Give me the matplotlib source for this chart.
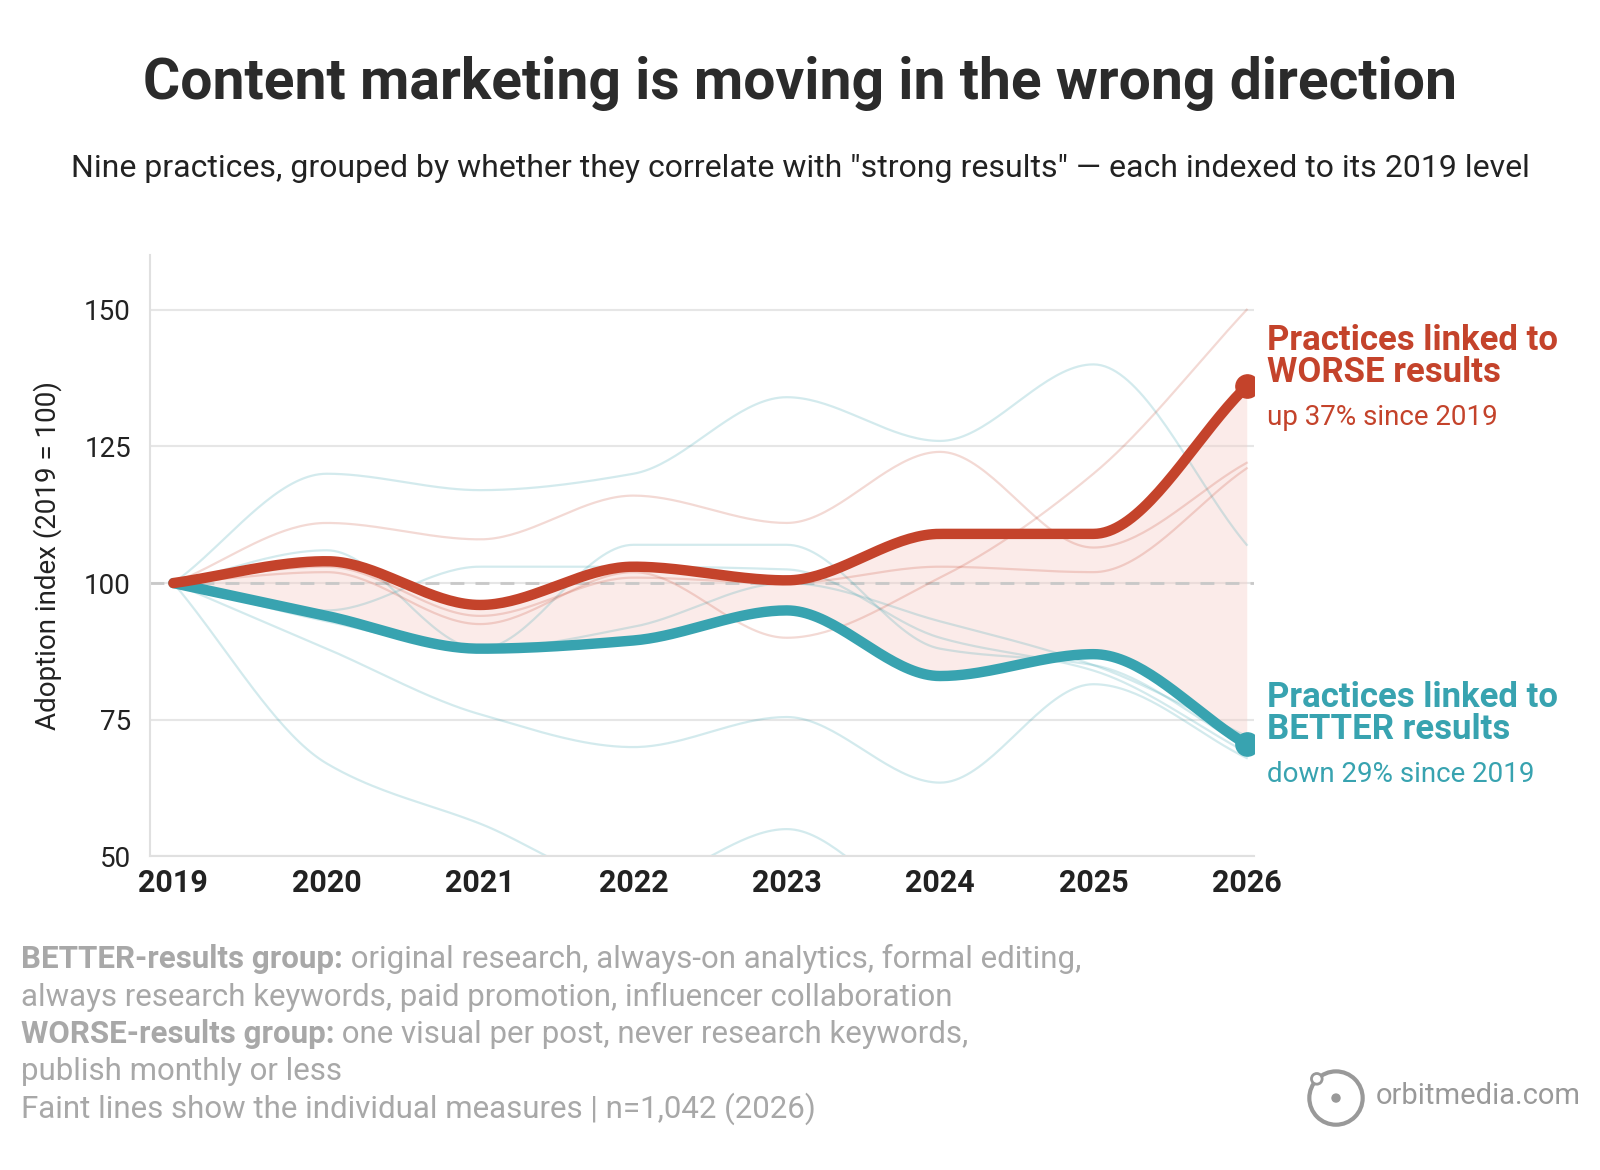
import numpy as np
import matplotlib
matplotlib.use("Agg")
import matplotlib.pyplot as plt
from matplotlib.patches import Circle

years = [2019, 2020, 2021, 2022, 2023, 2024, 2025, 2026]
worse_avg = [100, 104, 96, 103, 100.5, 109, 109, 136]
better_avg = [100, 94, 88, 89.5, 95, 83, 87, 70.5]
better_lines = [
    [100, 120, 117, 120, 134, 126, 140, 107],
    [100, 106, 88, 107, 107, 88, 85, 70],
    [100, 95, 103, 103, 102.5, 90, 84, 69],
    [100, 88, 76, 70, 75.5, 63.5, 81.5, 68],
    [100, 67, 56, 45, 55, 40, 45, 40],
    [100, 93, 88, 92, 100, 93, 85, 72],
]
worse_lines = [
    [100, 111, 108, 116, 111, 124, 106.5, 122],
    [100, 102, 92.5, 102, 90, 101, 120, 150],
    [100, 103, 94, 101, 100, 103, 102, 121],
]
yticks = [50, 75, 100, 125, 150]

RED = "#c4432b"
TEAL = "#38a3b0"

def smooth(xs, ys, n=40):
    # monotone cubic (Fritsch-Carlson) for drawing between data points
    xs = np.asarray(xs, float); ys = np.asarray(ys, float)
    h = np.diff(xs); d = np.diff(ys) / h
    m = np.zeros_like(ys)
    m[0] = d[0]; m[-1] = d[-1]
    for i in range(1, len(ys)-1):
        if d[i-1] * d[i] <= 0:
            m[i] = 0
        else:
            m[i] = 2 / (1/d[i-1] + 1/d[i])
    ox, oy = [], []
    for i in range(len(xs)-1):
        t = np.linspace(0, 1, n, endpoint=False)
        h00 = 2*t**3-3*t**2+1; h10 = t**3-2*t**2+t; h01 = -2*t**3+3*t**2; h11 = t**3-t**2
        oy.append(h00*ys[i] + h10*h[i]*m[i] + h01*ys[i+1] + h11*h[i]*m[i+1])
        ox.append(xs[i] + t*h[i])
    ox.append([xs[-1]]); oy.append([ys[-1]])
    return np.concatenate(ox), np.concatenate(oy)

plt.rcParams['font.family'] = ['Roboto', 'DejaVu Sans']
fig = plt.figure(figsize=(16, 11.7), dpi=100)
ax = fig.add_axes([0.094, 0.268, 0.690, 0.514])

for ys in better_lines:
    x, y = smooth(years, ys)
    ax.plot(x, y, color=TEAL, alpha=0.22, lw=1.6, zorder=2)
for ys in worse_lines:
    x, y = smooth(years, ys)
    ax.plot(x, y, color=RED, alpha=0.2, lw=1.6, zorder=2)

xr, yr = smooth(years, worse_avg)
xb, yb = smooth(years, better_avg)
ax.fill_between(xr, yr, yb, color="#f5cfc8", alpha=0.4, lw=0, zorder=1)
ax.axhline(100, color="#c8c8c8", lw=2, ls=(0, (5, 4)), zorder=1.5)
ax.plot(xb, yb, color=TEAL, lw=7.5, solid_capstyle='round', zorder=4)
ax.plot(xr, yr, color=RED, lw=7.5, solid_capstyle='round', zorder=5)
ax.scatter([years[-1]], [better_avg[-1]], s=280, color=TEAL, zorder=6)
ax.scatter([years[-1]], [worse_avg[-1]], s=280, color=RED, zorder=6)

ax.set_xlim(2018.85, 2026.05)
ax.set_ylim(50, 160)
ax.set_yticks(yticks)
ax.set_xticks(years)
ax.set_xticklabels([str(y) for y in years], fontsize=22, fontweight='bold', color="#222222")
ax.tick_params(axis='y', labelsize=20, colors="#222222", length=0, pad=14)
ax.tick_params(axis='x', length=0, pad=8)
ax.grid(axis='y', color="#e6e6e6", lw=1.5)
ax.set_axisbelow(True)
for s in ['top', 'right']:
    ax.spines[s].set_visible(False)
for s in ['left', 'bottom']:
    ax.spines[s].set_color("#e0e0e0")
    ax.spines[s].set_linewidth(1.5)
ax.set_ylabel("Adoption index (2019 = 100)", fontsize=20, color="#222222", labelpad=16)

fig.text(0.5, 0.929, "Content marketing is moving in the wrong direction", ha='center', va='center',
         fontsize=41, fontweight='bold', color="#2b2b2b")
fig.text(0.5, 0.856, 'Nine practices, grouped by whether they correlate with "strong results" — each indexed to its 2019 level',
         ha='center', va='center', fontsize=23, color="#222222")

fig.text(0.792, 0.695, "Practices linked to\nWORSE results", fontsize=25, fontweight='bold', color=RED,
         va='center', linespacing=0.95)
fig.text(0.792, 0.643, "up 37% since 2019", fontsize=20, color=RED, va='center')
fig.text(0.792, 0.390, "Practices linked to\nBETTER results", fontsize=25, fontweight='bold', color=TEAL,
         va='center', linespacing=0.95)
fig.text(0.792, 0.338, "down 29% since 2019", fontsize=20, color=TEAL, va='center')

grey = "#a8a8a8"
rows = [
    ("BETTER-results group:", " original research, always-on analytics, formal editing,"),
    ("", "always research keywords, paid promotion, influencer collaboration"),
    ("WORSE-results group:", " one visual per post, never research keywords,"),
    ("", "publish monthly or less"),
    ("", "Faint lines show the individual measures | n=1,042 (2026)"),
]
ys0 = [0.180, 0.148, 0.116, 0.084, 0.052]
for (b, r), yy in zip(rows, ys0):
    if b:
        t = fig.text(0.013, yy, b, fontsize=22.5, fontweight='bold', color=grey, va='center')
        fig.canvas.draw()
        bb = t.get_window_extent()
        x1 = bb.x1 / fig.bbox.width
        fig.text(x1, yy, r, fontsize=22.5, color=grey, va='center')
    else:
        fig.text(0.013, yy, r, fontsize=22.5, color=grey, va='center')

# logo
lax = fig.add_axes([0.815, 0.034, 0.04, 0.055])
lax.set_xlim(-1.2, 1.2); lax.set_ylim(-1.2, 1.2); lax.set_aspect('equal'); lax.axis('off')
lax.add_patch(Circle((0, 0), 1, fill=False, lw=3, ec="#999999"))
lax.add_patch(Circle((0, 0), 0.15, color="#999999"))
lax.add_patch(Circle((-0.72, 0.72), 0.2, fc="white", ec="#999999", lw=2))
fig.text(0.86, 0.063, "orbitmedia.com", fontsize=21, color="#999999", va='center')

fig.savefig("out.png", dpi=100)
